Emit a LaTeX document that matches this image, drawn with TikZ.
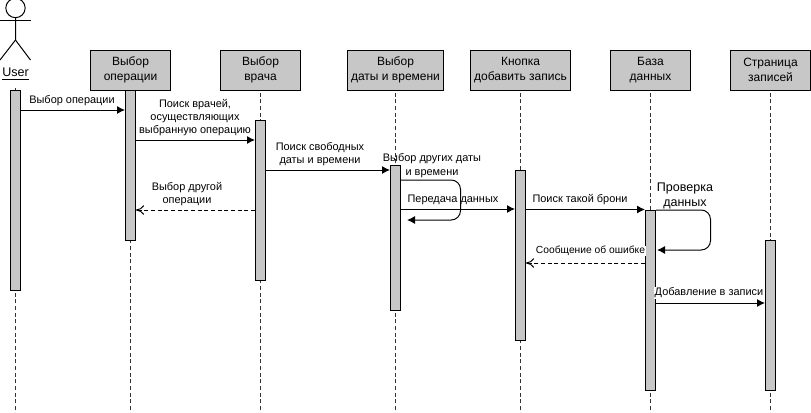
\documentclass[tikz,border=0pt]{standalone}
\usepackage{fontspec}
\setmainfont{Liberation Sans}
\usetikzlibrary{arrows.meta}
\tikzset{
    objbox/.style={draw, fill=black!22, minimum width=60pt, minimum height=30pt, align=center, font=\fontsize{9}{11.2}\selectfont, inner sep=0pt},
    actbar/.style={draw, fill=black!22, minimum width=7.5pt, inner sep=0pt, anchor=north},
    lifeline/.style={densely dashed, black!80},
    msg/.style={-{Latex[length=6pt,width=6pt]}},
    reply/.style={densely dashed, -{To[length=6pt,width=7pt]}},
    loopmsg/.style={-{Latex[length=6pt,width=6pt]}, rounded corners=7pt},
    lbl/.style={align=center, font=\fontsize{8.2}{9.8}\selectfont, inner sep=0.5pt},
}
\begin{document}
\begin{tikzpicture}[x=.75pt, y=-.75pt, line width=.75pt]
    \useasboundingbox (0,0) rectangle (811,412);
    % lifelines
    \coordinate (endUser) at (15.5,410);
    \coordinate (endOp) at (130.5,410);
    \coordinate (endDoc) at (260.5,410);
    \coordinate (endDate) at (395.5,410);
    \coordinate (endBtn) at (520.5,410);
    \coordinate (endDb) at (650.5,410);
    \coordinate (endPage) at (770.5,410);
    \foreach \n in {Op,Doc,Date,Btn,Db,Page,User}
    {
        \draw[lifeline] (end\n) -- (end\n |- 0,88);
    }
    % objects
    \node[objbox] (boxOp) at (endOp |- 0,70) {Выбор\\операции};
    \node[objbox] (boxDoc) at (endDoc |- 0,70) {Выбор\\врача};
    \node[objbox, minimum width=71.5pt] (boxDate) at (endDate |- 0,70) {Выбор\\даты и времени};
    \node[objbox, minimum width=75.5pt] (boxBtn) at (endBtn |- 0,70) {Кнопка\\добавить запись};
    \node[objbox] (boxDb) at (endDb |- 0,70) {База\\данных};
    \node[objbox] (boxPage) at (endPage |- 0,70) {Страница\\записей};
    % actor
    \node[draw, circle, minimum size=14.5pt, inner sep=0pt] (head) at (15.5,8) {};
    \node[font=\fontsize{9.4}{11}\selectfont, inner sep=0pt] (user) at (15.5,74) {\underline{User}};
    \coordinate (hip) at (15.5,40);
    \draw (head)--(hip)--(0,60);
    \draw (hip)--(30.5,60);
    \draw (0.5,20)--(30.5,20);
    % activation bars
    \foreach \n/\t/\h in {User/90/150,Op/90/112.5,Doc/120/120,Date/165/109,Btn/170/127.5,Db/210/135,Page/240/112.5}
    {
        \node[actbar, minimum height=\h pt] (act\n) at (end\n |- 0,\t) {};
    }
    % messages
    \draw[msg] (actUser.east |- 0,110) -- (actOp.west |- 0,110);
    \node[lbl] (m1) at (72,101) {Выбор операции};
    \draw[msg] (actOp.east |- 0,140) -- (actDoc.west |- 0,140);
    \node[lbl] (m2) at (195,118) {Поиск врачей,\\осуществляющих\\выбранную операцию};
    \draw[msg] (actDoc.east |- 0,170) -- (actDate.west |- 0,170);
    \node[lbl] (m3) at (320,154.5) {Поиск свободных\\даты и времени};
    \draw[reply] (actDoc.west |- 0,210) -- (actOp.east |- 0,210);
    \node[lbl] (m4) at (187,194) {Выбор другой\\операции};
    \draw[msg] (actDate.east |- 0,209) -- (actBtn.west |- 0,209);
    \node[lbl] (m6) at (453,200) {Передача данных};
    \draw[loopmsg] (actDate.east |- 0,180) -- (460.5,180) -- (460.5,220) -- (407,220);
    \node[lbl, font=\fontsize{8.2}{10.6}\selectfont] (m5) at (432,166) {Выбор других даты\\и времени};
    \draw[msg] (actBtn.east |- 0,209.5) -- (actDb.west |- 0,209.5);
    \node[lbl] (m7) at (580,200) {Поиск такой брони};
    \draw[loopmsg] (actDb.east |- 0,210) -- (710.5,210) -- (710.5,250) -- (657,250);
    \node[lbl, font=\fontsize{9.4}{11.2}\selectfont] (m8) at (685,195.5) {Проверка\\данных};
    \draw[reply] (actDb.west |- 0,263) -- (actBtn.east |- 0,263);
    \node[lbl, fill=white, font=\fontsize{7.7}{9.8}\selectfont] (m9) at (590.5,251) {Сообщение об ошибке};
    \draw[msg] (actDb.east |- 0,303) -- (actPage.west |- 0,303);
    \node[lbl, fill=white] (m10) at (709,293) {Добавление в записи};
\end{tikzpicture}
\end{document}
